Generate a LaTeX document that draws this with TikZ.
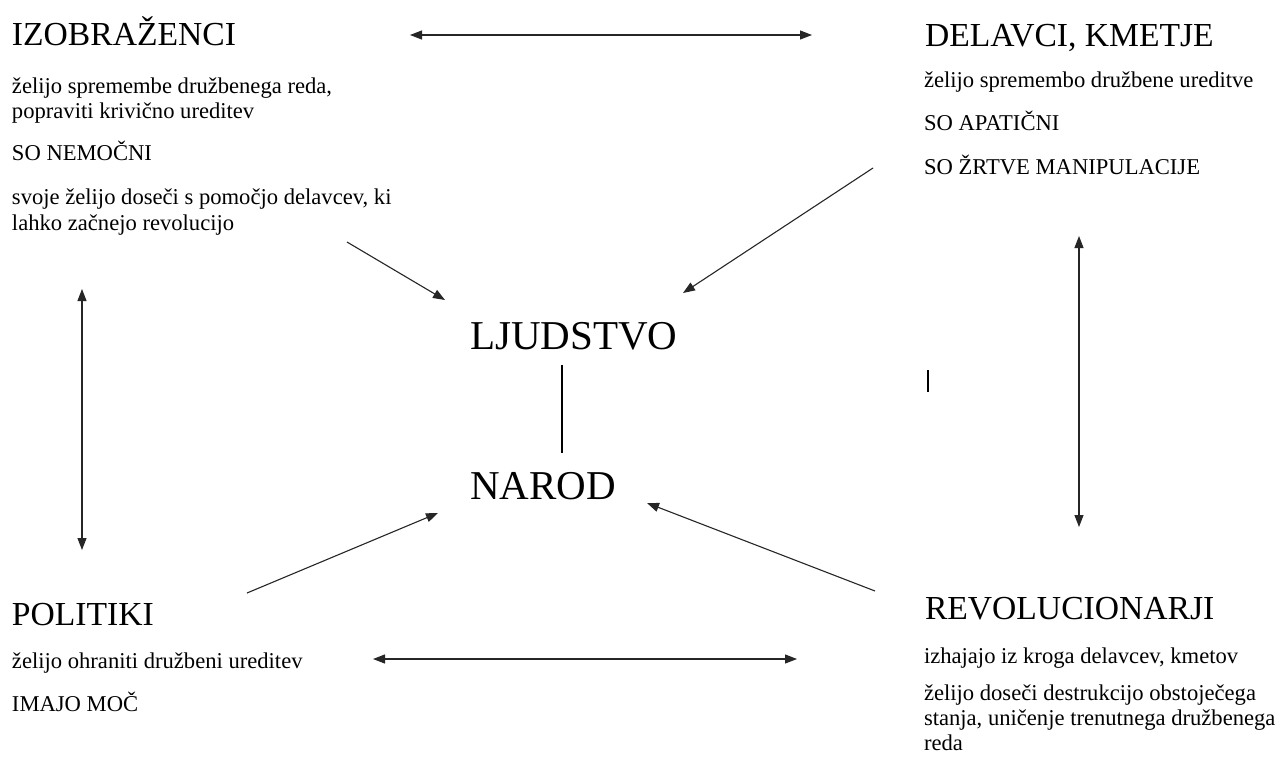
\documentclass[tikz,border=0pt]{standalone}
\usepackage{fontspec}
\setmainfont{Liberation Serif}
\usetikzlibrary{arrows.meta}
\begin{document}
\begin{tikzpicture}[x=1pt,y=-1pt,
  txt/.style={anchor=base west,inner sep=0pt,outer sep=0pt,font=\fontsize{22.6}{27}\selectfont},
  head/.style={txt,font=\fontsize{33.6}{38}\selectfont},
  big/.style={txt,font=\fontsize{41}{46}\selectfont},
  conn/.style={line width=1.1pt,draw=black!85},
  arr/.style={conn,-{Triangle[length=12pt,width=9pt]}},
  darr/.style={conn,{Triangle[length=12pt,width=9pt]}-{Triangle[length=12pt,width=9pt]}}]
\useasboundingbox[fill=white] (0,0) rectangle (1278,756);
% top left
\node[head] (izo) at (12,45) {IZOBRAŽENCI};
\node[txt] (izo1) at (12,93) {želijo spremembe družbenega reda,};
\node[txt] (izo2) at (12,118) {popraviti krivično ureditev};
\node[txt] (izo3) at (12,160) {SO NEMOČNI};
\node[txt] (izo4) at (12,204) {svoje želijo doseči s pomočjo delavcev, ki};
\node[txt] (izo5) at (12,230) {lahko začnejo revolucijo};
% top right
\node[head] (del) at (925,46) {DELAVCI, KMETJE};
\node[txt] (del1) at (924,87) {želijo spremembo družbene ureditve};
\node[txt] (del2) at (924,130) {SO APATIČNI};
\node[txt] (del3) at (924,174) {SO ŽRTVE MANIPULACIJE};
% bottom left
\node[head] (pol) at (12,625) {POLITIKI};
\node[txt] (pol1) at (12,668) {želijo ohraniti družbeni ureditev};
\node[txt] (pol2) at (12,711) {IMAJO MOČ};
% bottom right
\node[head] (rev) at (925,619) {REVOLUCIONARJI};
\node[txt] (rev1) at (924,663) {izhajajo iz kroga delavcev, kmetov};
\node[txt] (rev2) at (924,700) {želijo doseči destrukcijo obstoječega};
\node[txt] (rev3) at (924,725) {stanja, uničenje trenutnega družbenega};
\node[txt] (rev4) at (924,750) {reda};
% centre
\node[big] (lj) at (470,349) {LJUDSTVO};
\node[big] (nar) at (470,499) {NAROD};
% coordinates
\coordinate (a1s) at (347,242); \coordinate (a1e) at (445,300);
\coordinate (a2s) at (873,168); \coordinate (a2e) at (683,293);
\coordinate (a3s) at (247,593); \coordinate (a3e) at (438,513);
\coordinate (a4s) at (875,591); \coordinate (a4e) at (647,503);
\coordinate (t1) at (410,35); \coordinate (t2) at (812,35);
\coordinate (b1) at (373,659); \coordinate (b2) at (797,659);
\coordinate (l1) at (82,289); \coordinate (l2) at (82,550);
\coordinate (r1) at (1079,236); \coordinate (r2) at (1079,527);
\coordinate (n1) at (562,365); \coordinate (n2) at (562,453);
\coordinate (m1) at (928,370); \coordinate (m2) at (928,392);
% connectors
\draw[arr] (a1s) -- (a1e);
\draw[arr] (a2s) -- (a2e);
\draw[arr] (a3s) -- (a3e);
\draw[arr] (a4s) -- (a4e);
\draw[darr] (t1) -- (t2);
\draw[darr] (b1) -- (b2);
\draw[darr] (l1) -- (l2);
\draw[darr] (r1) -- (r2);
\draw[conn,draw=black] (n1) -- (n2);
\draw[conn,draw=black] (m1) -- (m2);
\end{tikzpicture}
\end{document}
